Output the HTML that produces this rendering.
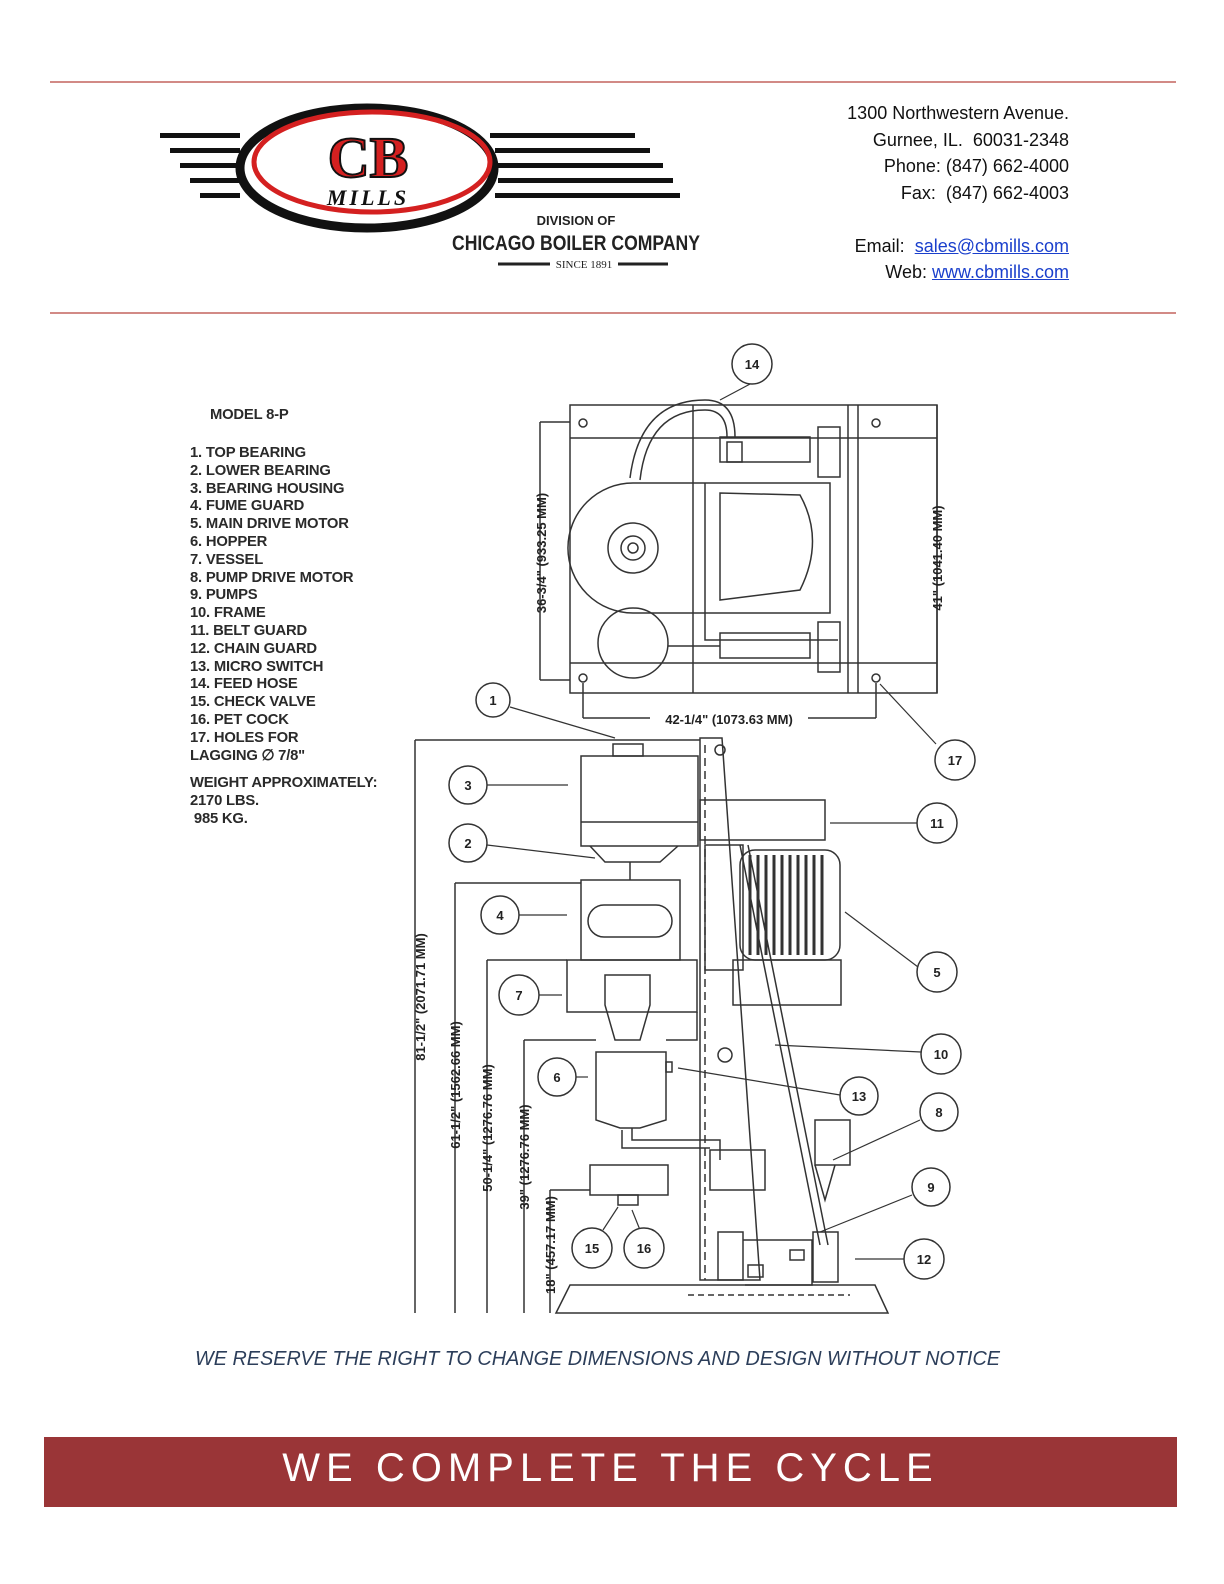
<!DOCTYPE html>
<html><head><meta charset="utf-8"><style>
html,body{margin:0;padding:0;background:#fff;}
body{width:1224px;height:1584px;position:relative;overflow:hidden;font-family:"Liberation Sans",sans-serif;}
.addr{position:absolute;right:155px;top:100px;text-align:right;font-size:18px;line-height:26.5px;color:#111;}
.addr a{color:#1a3fcc;text-decoration:underline;}
.leg{position:absolute;left:190px;font-size:14.8px;font-weight:bold;color:#2a2a2a;line-height:17.8px;letter-spacing:-0.2px;}
.band{position:absolute;left:44px;top:1437px;width:1133px;height:70px;background:#9a3537;color:#fff;font-size:40px;letter-spacing:6px;text-align:center;line-height:62px;}
</style></head><body>
<svg width="1224" height="1584" style="position:absolute;left:0;top:0">
<line x1="50" y1="82" x2="1176" y2="82" stroke="#b8443e" stroke-width="1.3"/>
<line x1="50" y1="313" x2="1176" y2="313" stroke="#b8443e" stroke-width="1.3"/>
<g fill="#111">
<rect x="160" y="133" width="80" height="5"/><rect x="170" y="148" width="70" height="5"/><rect x="180" y="163" width="60" height="5"/><rect x="190" y="178" width="50" height="5"/><rect x="200" y="193" width="40" height="5"/>
<rect x="490" y="133" width="145" height="5"/><rect x="495" y="148" width="155" height="5"/><rect x="498" y="163" width="165" height="5"/><rect x="498" y="178" width="175" height="5"/><rect x="495" y="193" width="185" height="5"/>
</g>
<ellipse cx="367" cy="168" rx="127" ry="60" fill="none" stroke="#111" stroke-width="9"/>
<ellipse cx="372" cy="162" rx="118" ry="50" fill="none" stroke="#d42020" stroke-width="5"/>
<text x="368" y="177" text-anchor="middle" font-family="Liberation Serif" font-weight="bold" font-size="58" fill="#d42020" stroke="#111" stroke-width="2">CB</text>
<text x="368" y="205" text-anchor="middle" font-family="Liberation Serif" font-weight="bold" font-style="italic" font-size="22" fill="#111" letter-spacing="3">MILLS</text>
<text x="576" y="225" text-anchor="middle" font-weight="bold" font-size="13" fill="#222">DIVISION OF</text>
<text x="576" y="250" text-anchor="middle" font-weight="bold" font-size="21" fill="#222" textLength="248" lengthAdjust="spacingAndGlyphs">CHICAGO BOILER COMPANY</text>
<line x1="498" y1="264" x2="550" y2="264" stroke="#222" stroke-width="3"/><line x1="618" y1="264" x2="668" y2="264" stroke="#222" stroke-width="3"/>
<text x="584" y="268" text-anchor="middle" font-family="Liberation Serif" font-size="11" fill="#222">SINCE 1891</text>

<g fill="none" stroke="#333" stroke-width="1.5">
<rect x="570" y="405" width="367" height="288"/>
<line x1="570" y1="438" x2="937" y2="438"/><line x1="570" y1="663" x2="937" y2="663"/>
<line x1="693" y1="405" x2="693" y2="693"/><line x1="848" y1="405" x2="848" y2="693"/><line x1="858" y1="405" x2="858" y2="693"/>
<circle cx="583" cy="423" r="4"/><circle cx="876" cy="423" r="4"/><circle cx="583" cy="678" r="4"/><circle cx="876" cy="678" r="4"/>
<path d="M633 483 A65 65 0 1 0 633 613 L830 613 L830 483 Z"/>
<circle cx="633" cy="548" r="25"/><circle cx="633" cy="548" r="12"/><circle cx="633" cy="548" r="5"/>
<path d="M705 483 L705 640 L838 640"/><path d="M720 493 L720 600 L800 590 Q825 540 800 495 Z"/>
<circle cx="633" cy="643" r="35"/>
<rect x="720" y="437" width="90" height="25"/><rect x="818" y="427" width="22" height="50"/><rect x="727" y="442" width="15" height="20"/>
<rect x="720" y="633" width="90" height="25"/><rect x="818" y="622" width="22" height="50"/>
<line x1="668" y1="646" x2="720" y2="646"/>
<path d="M630 478 Q640 400 705 400 Q735 400 735 437"/><path d="M640 480 Q648 410 705 410 Q727 410 727 437"/>
<line x1="540" y1="422" x2="570" y2="422"/><line x1="540" y1="422" x2="540" y2="680"/><line x1="540" y1="680" x2="570" y2="680"/>
<line x1="937" y1="405" x2="937" y2="693"/>
<line x1="583" y1="683" x2="583" y2="718"/><line x1="876" y1="683" x2="876" y2="718"/><line x1="583" y1="718" x2="650" y2="718"/><line x1="808" y1="718" x2="876" y2="718"/>
<line x1="415" y1="740" x2="700" y2="740"/><line x1="415" y1="740" x2="415" y2="1313"/>
<line x1="455" y1="883" x2="581" y2="883"/><line x1="455" y1="883" x2="455" y2="1313"/>
<line x1="487" y1="960" x2="567" y2="960"/><line x1="487" y1="960" x2="487" y2="1313"/>
<line x1="524" y1="1040" x2="596" y2="1040"/><line x1="524" y1="1040" x2="524" y2="1313"/>
<line x1="550" y1="1190" x2="590" y2="1190"/><line x1="550" y1="1190" x2="550" y2="1313"/>
<rect x="613" y="744" width="30" height="12"/>
<rect x="581" y="756" width="117" height="90"/><line x1="581" y1="822" x2="698" y2="822"/>
<path d="M590 846 L605 862 L660 862 L678 846"/><line x1="630" y1="862" x2="630" y2="880"/>
<rect x="581" y="880" width="99" height="80"/><rect x="588" y="905" width="84" height="32" rx="16"/>
<rect x="567" y="960" width="130" height="52"/>
<path d="M605 975 L650 975 L650 1005 L640 1040 L615 1040 L605 1005 Z"/>
<path d="M697 1012 L697 1040 L666 1040"/>
<path d="M596 1052 L666 1052 L666 1120 L640 1128 L620 1128 L596 1120 Z"/><rect x="666" y="1062" width="6" height="10"/>
<path d="M632 1128 L632 1140 L720 1140 L720 1160"/><path d="M622 1130 L622 1148 L710 1148"/>
<rect x="590" y="1165" width="78" height="30"/><rect x="618" y="1195" width="20" height="10"/>
<path d="M700 738 L722 738 L760 1280 L700 1280 Z"/>
<line x1="705" y1="745" x2="705" y2="1280" stroke-dasharray="8 5"/>
<circle cx="720" cy="750" r="5"/><circle cx="725" cy="1055" r="7"/>
<rect x="700" y="800" width="125" height="40"/>
<rect x="705" y="845" width="38" height="125"/>
<rect x="740" y="850" width="100" height="110" rx="15"/>
<path d="M750 855 L750 955 M758 855 L758 955 M766 855 L766 955 M774 855 L774 955 M782 855 L782 955 M790 855 L790 955 M798 855 L798 955 M806 855 L806 955 M814 855 L814 955 M822 855 L822 955" stroke-width="3"/>
<rect x="733" y="960" width="108" height="45"/>
<path d="M740 845 L820 1245 M748 845 L828 1245"/>
<rect x="815" y="1120" width="35" height="45"/><path d="M815 1165 L825 1200 L835 1165"/>
<rect x="710" y="1150" width="55" height="40"/>
<rect x="718" y="1232" width="25" height="48"/><path d="M743 1240 L812 1240 L812 1285 L745 1285"/>
<rect x="813" y="1232" width="25" height="50"/>
<rect x="748" y="1265" width="15" height="12"/><rect x="790" y="1250" width="14" height="10"/>
<path d="M556 1313 L570 1285 L875 1285 L888 1313 Z"/>
<line x1="688" y1="1295" x2="850" y2="1295" stroke-dasharray="6 4"/>
</g>
<g stroke="#333" stroke-width="1.2" fill="none">
<path d="M510 707 L615 738"/><path d="M487 785 L568 785"/><path d="M487 845 L595 858"/><path d="M519 915 L567 915"/><path d="M538 995 L562 995"/><path d="M576 1077 L588 1077"/>
<path d="M603 1230 L618 1207"/><path d="M640 1230 L632 1210"/><path d="M752 383 L720 400"/>
<path d="M936 744 L880 684"/><path d="M918 823 L830 823"/><path d="M918 967 L845 912"/><path d="M921 1052 L775 1045"/>
<path d="M840 1095 L678 1068"/><path d="M920 1120 L833 1160"/><path d="M912 1195 L820 1232"/><path d="M905 1259 L855 1259"/>
</g>
<g fill="#fff" stroke="#333" stroke-width="1.5">
<circle cx="493" cy="700" r="17"/><circle cx="468" cy="785" r="19"/><circle cx="468" cy="843" r="19"/><circle cx="500" cy="915" r="19"/><circle cx="519" cy="995" r="20"/><circle cx="557" cy="1077" r="19"/><circle cx="592" cy="1248" r="20"/><circle cx="644" cy="1248" r="20"/><circle cx="752" cy="364" r="20"/><circle cx="955" cy="760" r="20"/><circle cx="937" cy="823" r="20"/><circle cx="937" cy="972" r="20"/><circle cx="941" cy="1054" r="20"/><circle cx="859" cy="1096" r="19"/><circle cx="939" cy="1112" r="19"/><circle cx="931" cy="1187" r="19"/><circle cx="924" cy="1259" r="20"/>
</g>
<g font-size="13" font-weight="bold" fill="#222" text-anchor="middle">
<text x="493" y="705">1</text><text x="468" y="790">3</text><text x="468" y="848">2</text><text x="500" y="920">4</text><text x="519" y="1000">7</text><text x="557" y="1082">6</text><text x="592" y="1253">15</text><text x="644" y="1253">16</text><text x="752" y="369">14</text><text x="955" y="765">17</text><text x="937" y="828">11</text><text x="937" y="977">5</text><text x="941" y="1059">10</text><text x="859" y="1101">13</text><text x="939" y="1117">8</text><text x="931" y="1192">9</text><text x="924" y="1264">12</text>
<text x="729" y="724">42-1/4" (1073.63 MM)</text>
<text transform="translate(546 553) rotate(-90)">36-3/4" (933.25 MM)</text>
<text transform="translate(942 558) rotate(-90)">41" (1041.40 MM)</text>
<text transform="translate(425 997) rotate(-90)">81-1/2" (2071.71 MM)</text>
<text transform="translate(460 1085) rotate(-90)">61-1/2" (1562.66 MM)</text>
<text transform="translate(492 1128) rotate(-90)">50-1/4" (1276.76 MM)</text>
<text transform="translate(529 1157) rotate(-90)">39" (1276.76 MM)</text>
<text transform="translate(555 1245) rotate(-90)">18" (457.17 MM)</text>
</g>
<text x="195" y="1365" font-size="20" font-style="italic" fill="#2c3e5a" textLength="805" lengthAdjust="spacingAndGlyphs">WE RESERVE THE RIGHT TO CHANGE DIMENSIONS AND DESIGN WITHOUT NOTICE</text>
</svg>
<div class="addr">1300 Northwestern Avenue.<br>Gurnee, IL.&nbsp; 60031-2348<br>Phone: (847) 662-4000<br>Fax:&nbsp; (847) 662-4003<br><br>Email:&nbsp; <a>sales@cbmills.com</a><br>Web: <a>www.cbmills.com</a></div>
<div class="leg" style="top:407px;left:210px">MODEL 8-P</div>
<div class="leg" style="top:445px">1. TOP BEARING<br>2. LOWER BEARING<br>3. BEARING HOUSING<br>4. FUME GUARD<br>5. MAIN DRIVE MOTOR<br>6. HOPPER<br>7. VESSEL<br>8. PUMP DRIVE MOTOR<br>9. PUMPS<br>10. FRAME<br>11. BELT GUARD<br>12. CHAIN GUARD<br>13. MICRO SWITCH<br>14. FEED HOSE<br>15. CHECK VALVE<br>16. PET COCK<br>17. HOLES FOR<br>LAGGING &#8709; 7/8"</div>
<div class="leg" style="top:775px">WEIGHT APPROXIMATELY:<br>2170 LBS.<br>&nbsp;985 KG.</div>
<div class="band">WE COMPLETE THE CYCLE</div>
</body></html>
